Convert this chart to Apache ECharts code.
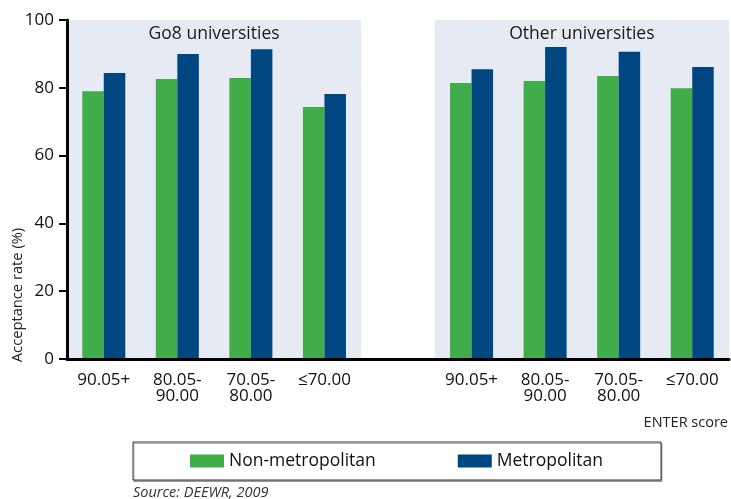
<!DOCTYPE html>
<html>
<head>
<meta charset="utf-8">
<script src="https://cdn.jsdelivr.net/npm/echarts@6/dist/echarts.min.js"></script>
<style>
  html, body { margin: 0; padding: 0; background: #fff; }
  #chart { width: 731px; height: 499px; }
</style>
</head>
<body>
<div id="chart"></div>
<script>
// ENTER score bands (shared by both university groups)
const bands = ['90.05+', '80.05-\n90.00', '70.05-\n80.00', '≤70.00'];
const groupNames = ['Go8 universities', 'Other universities'];

// Acceptance rate (%) by band
const go8NonMetro = [79.0, 82.6, 82.9, 74.3];
const go8Metro = [84.4, 90.0, 91.4, 78.2];
const otherNonMetro = [81.4, 82.0, 83.5, 79.9];
const otherMetro = [85.5, 92.0, 90.6, 86.1];

const yTicks = [0, 20, 40, 60, 80, 100];

const FONT = '"Open Sans", sans-serif';
const GREEN = '#41ac4a';
const BLUE = '#004680';
const PANEL = '#e6eaf2';

// One blank category separates the two groups
const categories = bands.concat([''], bands);
const nonMetro = go8NonMetro.concat([null], otherNonMetro);
const metro = go8Metro.concat([null], otherMetro);
const n = categories.length;

const chart = echarts.init(document.getElementById('chart'), null, { renderer: 'canvas' });

chart.setOption({
  animation: false,
  backgroundColor: '#fff',
  textStyle: { fontFamily: FONT },
  grid: { left: 67, right: 2, top: 20, bottom: 140, containLabel: false },
  xAxis: [
    {
      type: 'category',
      data: categories,
      z: 10,
      axisLine: { lineStyle: { color: '#000', width: 3 } },
      axisTick: {
        alignWithLabel: true,
        length: 6,
        lineStyle: { color: '#000', width: 2 },
        interval: (i, v) => v !== ''
      },
      axisLabel: {
        interval: 0,
        margin: 13,
        color: '#111',
        fontSize: 17,
        lineHeight: 16,
        fontFamily: FONT
      }
    },
    {
      // plain index scale used to place the group panels on band edges
      type: 'value',
      min: 0,
      max: n,
      show: false
    }
  ],
  yAxis: {
    type: 'value',
    z: 10,
    min: yTicks[0],
    max: yTicks[yTicks.length - 1],
    interval: yTicks[1] - yTicks[0],
    splitLine: { show: false },
    axisLine: { show: true, lineStyle: { color: '#000', width: 3 } },
    axisTick: { show: true, length: 8, lineStyle: { color: '#000', width: 2 } },
    axisLabel: { margin: 13, color: '#111', fontSize: 17, fontFamily: FONT }
  },
  legend: {
    left: 133,
    top: 442,
    padding: [10, 58, 10, 57],
    itemGap: 82,
    itemWidth: 34,
    itemHeight: 13,
    icon: 'rect',
    borderColor: '#333',
    borderWidth: 1,
    shadowColor: 'rgba(0,0,0,0.3)',
    shadowOffsetX: 1,
    shadowOffsetY: 1.5,
    shadowBlur: 0,
    backgroundColor: '#fff',
    textStyle: { fontSize: 17.5, color: '#111', fontFamily: FONT },
    data: ['Non-metropolitan', 'Metropolitan']
  },
  title: [
    {
      text: 'ENTER score',
      right: 3,
      top: 415,
      padding: 0,
      textStyle: { fontSize: 14.5, fontWeight: 'normal', color: '#222', fontFamily: FONT }
    },
    {
      text: 'Source: DEEWR, 2009',
      left: 133,
      top: 485,
      padding: 0,
      textStyle: { fontSize: 14.5, fontStyle: 'italic', fontWeight: 'normal', color: '#333', fontFamily: FONT }
    }
  ],
  graphic: [
    {
      type: 'text',
      x: 18,
      y: 295,
      rotation: Math.PI / 2,
      style: {
        text: 'Acceptance rate (%)',
        fill: '#222',
        font: '14.7px ' + FONT,
        textAlign: 'center',
        textVerticalAlign: 'middle'
      }
    }
  ],
  series: [
    {
      // shaded group panels with their headings
      type: 'line',
      xAxisIndex: 1,
      data: [],
      silent: true,
      z: 1,
      markArea: {
        silent: true,
        itemStyle: { color: PANEL },
        label: {
          position: 'insideTop',
          distance: 5,
          color: '#1a1a1a',
          fontSize: 17.5,
          fontFamily: FONT
        },
        data: [
          [{ name: groupNames[0], xAxis: 0 }, { xAxis: bands.length }],
          [{ name: groupNames[1], xAxis: bands.length + 1 }, { xAxis: n }]
        ]
      }
    },
    {
      name: 'Non-metropolitan',
      type: 'bar',
      data: nonMetro,
      barWidth: 21.5,
      barGap: '0%',
      itemStyle: { color: GREEN }
    },
    {
      name: 'Metropolitan',
      type: 'bar',
      data: metro,
      barWidth: 21.5,
      barGap: '0%',
      itemStyle: { color: BLUE }
    }
  ]
});
</script>
</body>
</html>
